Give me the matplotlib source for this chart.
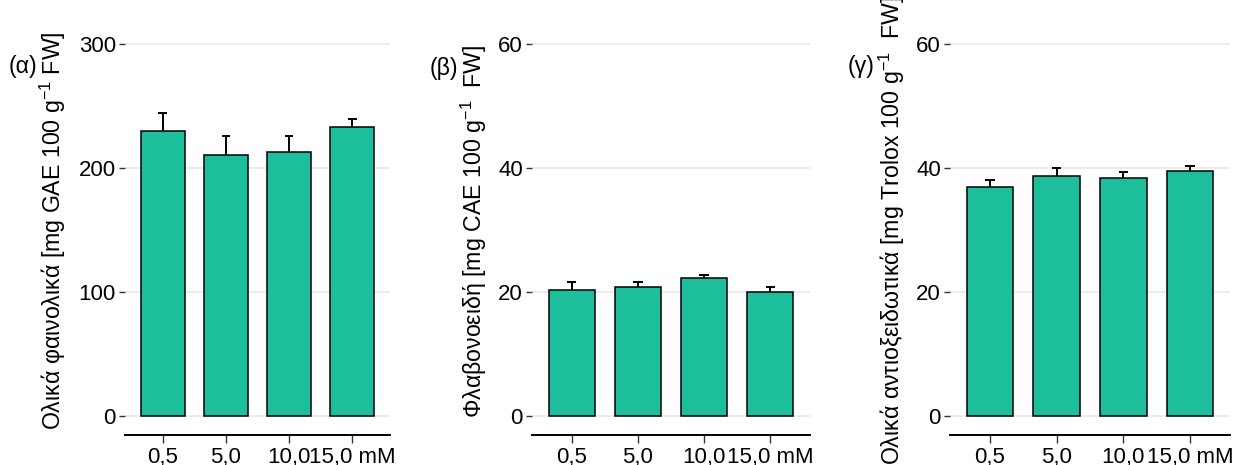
import matplotlib
matplotlib.use("Agg")
import matplotlib.pyplot as plt

plt.rcParams['font.family'] = ['Liberation Sans', 'DejaVu Sans']
plt.rcParams['mathtext.default'] = 'regular'

# concentration levels on the x axis
doses = ["0,5", "5,0", "10,0", "15,0 mM"]

# (α) total phenolics
phenol_mean = [230.0, 210.5, 212.5, 233.0]
phenol_sd = [14.5, 15.3, 13.3, 6.7]

# (β) flavonoids
flav_mean = [20.3, 20.9, 22.2, 20.1]
flav_sd = [1.4, 0.8, 0.55, 0.7]

# (γ) total antioxidants
anti_mean = [36.9, 38.7, 38.3, 39.5]
anti_sd = [1.2, 1.25, 1.1, 0.75]

bar_color = "#1DBE9C"
W, H = 1237, 465
tick_fs = 16
label_fs = 16.7

fig = plt.figure(figsize=(W / 100, H / 100), dpi=100)


def panel(x0, x1, mean, sd, yticks, ylabel, label_x, tag, tag_xy):
    ax = fig.add_axes([x0 / W, 30 / H, (x1 - x0) / W, 410 / H])
    pos = list(range(1, len(mean) + 1))
    ax.bar(pos, mean, width=0.7, color=bar_color, edgecolor="black",
           linewidth=1.1, zorder=3)
    # upper error bars only
    ax.vlines(pos, mean, [m + s for m, s in zip(mean, sd)],
              color="black", linewidth=1.4, zorder=2)
    ax.hlines([m + s for m, s in zip(mean, sd)],
              [p - 0.07 for p in pos], [p + 0.07 for p in pos],
              color="black", linewidth=1.4, zorder=2)
    top = yticks[-1]
    ax.set_xlim(0.4, len(mean) + 0.6)
    ax.set_ylim(-0.05 * top, 1.05 * top)
    ax.set_yticks(yticks)
    ax.set_xticks(pos)
    ax.set_xticklabels(doses)
    ax.grid(axis="y", color="#EBEBEB", linewidth=1.3, zorder=0)
    for side in ["top", "right", "left"]:
        ax.spines[side].set_visible(False)
    ax.spines["bottom"].set_linewidth(1.4)
    ax.tick_params(axis="y", length=4.5, width=1.0, color="#333333",
                   labelsize=tick_fs, pad=2)
    ax.tick_params(axis="x", length=5.5, width=1.0, color="#333333",
                   labelsize=tick_fs, pad=3)
    fig.text(label_x / W, 1 - 231 / H, ylabel, rotation=90,
             ha="center", va="center", fontsize=label_fs)
    fig.text(tag_xy[0] / W, 1 - tag_xy[1] / H, tag,
             ha="left", va="center", fontsize=label_fs)
    return ax


panel(125, 390, phenol_mean, phenol_sd, [0, 100, 200, 300],
      "Ολικά φαινολικά [mg GAE 100 g$^{-1}$ FW]", 53, "(α)", (9, 66))
panel(532, 810, flav_mean, flav_sd, [0, 20, 40, 60],
      "Φλαβονοειδή [mg CAE 100 g$^{-1}$  FW]", 474, "(β)", (430, 68))
panel(950, 1230, anti_mean, anti_sd, [0, 20, 40, 60],
      "Ολικά αντιοξειδωτικά [mg Trolox 100 g$^{-1}$  FW]", 892, "(γ)", (848, 66))

fig.savefig("out.png", dpi=100)
